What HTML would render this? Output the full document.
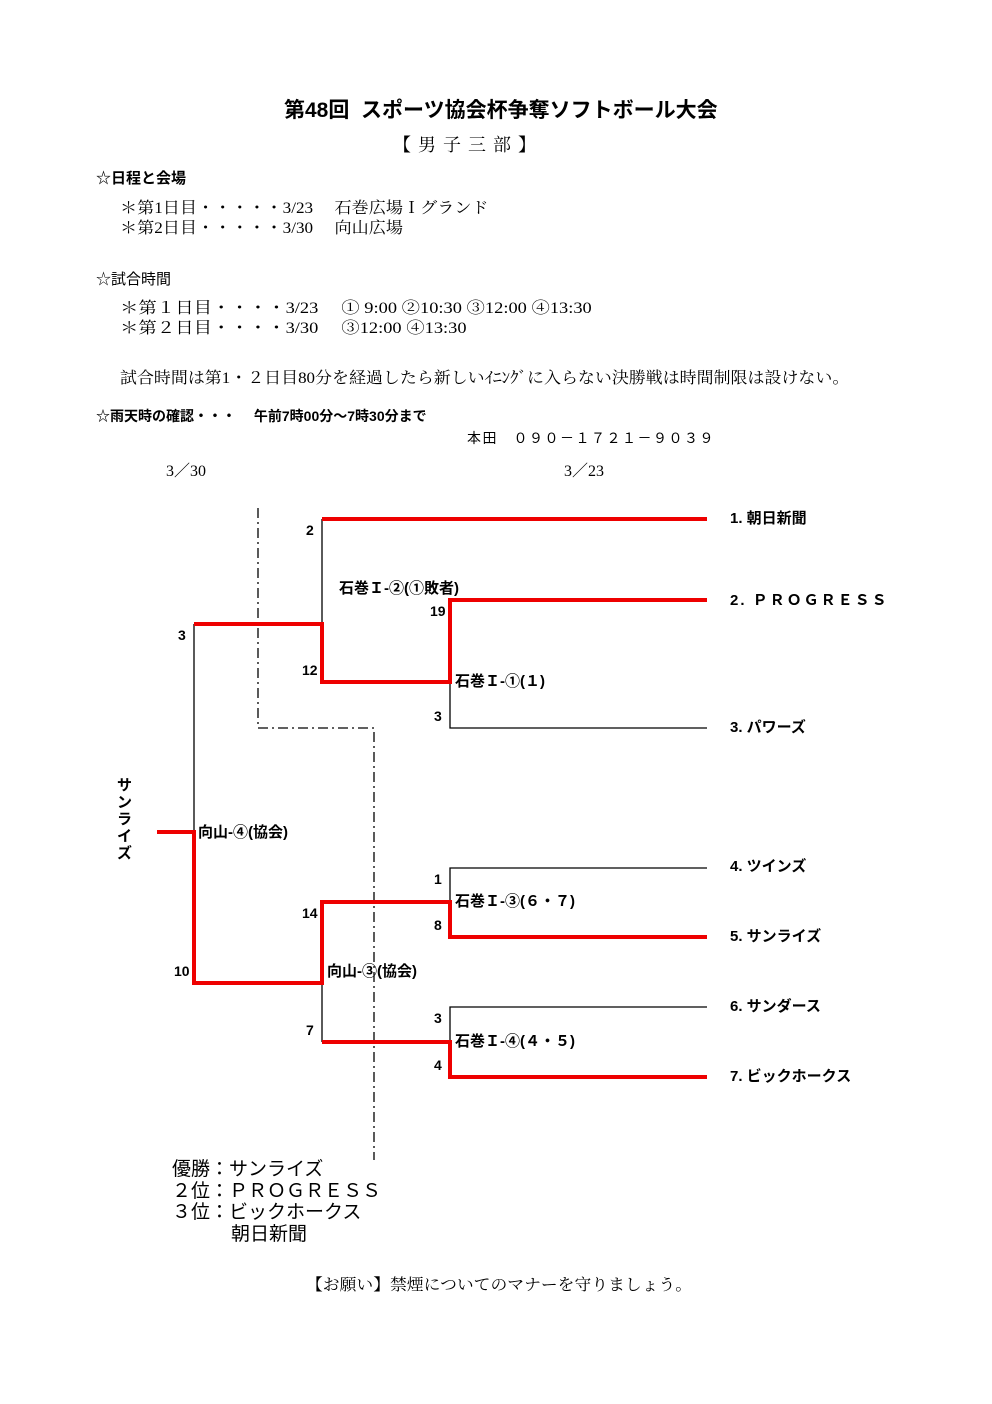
<!DOCTYPE html>
<html><head><meta charset="utf-8"><style>
html,body{margin:0;padding:0;background:#fff;}
body{width:992px;height:1404px;position:relative;overflow:hidden;font-family:"Liberation Sans","Noto Sans CJK JP",sans-serif;color:#000;}
.t{position:absolute;white-space:nowrap;line-height:1;transform-origin:0 0;}
.g{font-family:"Liberation Sans","Noto Sans CJK JP",sans-serif;font-weight:bold;}
.m{font-family:"Liberation Serif","Noto Serif CJK SC",serif;}
svg{position:absolute;left:0;top:0;}
</style></head><body>
<div class="t g" style="left:284px;top:100px;font-size:21px;">第48回&nbsp; スポーツ協会杯争奪ソフトボール大会</div>
<div class="t m" style="left:393px;top:136px;font-size:18px;letter-spacing:7px;">【男子三部】</div>
<div class="t g" style="left:96px;top:171px;font-size:15px;">☆日程と会場</div>
<div class="t m" style="left:120px;top:201px;font-size:16px;transform:scaleX(1.07);">＊第1日目・・・・・3/23　 石巻広場Ｉグランド</div>
<div class="t m" style="left:120px;top:221px;font-size:16px;transform:scaleX(1.07);">＊第2日目・・・・・3/30　 向山広場</div>
<div class="t" style="left:96px;top:272px;font-size:15px;">☆試合時間</div>
<div class="t m" style="left:120px;top:301px;font-size:16px;transform:scaleX(1.15);">＊第１日目・・・・3/23　 ① 9:00 ②10:30 ③12:00 ④13:30</div>
<div class="t m" style="left:120px;top:321px;font-size:16px;transform:scaleX(1.15);">＊第２日目・・・・3/30　 ③12:00 ④13:30</div>
<div class="t m" style="left:120px;top:371px;font-size:16px;transform:scaleX(1.06);">試合時間は第1・２日目80分を経過したら新しいｲﾆﾝｸﾞに入らない決勝戦は時間制限は設けない。</div>
<div class="t g" style="left:96px;top:409px;font-size:14px;">☆雨天時の確認・・・　 午前7時00分～7時30分まで</div>
<div class="t" style="left:467px;top:431px;font-size:14px;letter-spacing:1.5px;">本田　０９０－１７２１－９０３９</div>
<div class="t m" style="left:166px;top:464px;font-size:16px;">3／30</div>
<div class="t m" style="left:564px;top:464px;font-size:16px;">3／23</div>

<svg width="992" height="1404">
<g stroke="#000" stroke-width="1.3" fill="none">
<path d="M322 519V624"/>
<path d="M450 682V728H707"/>
<path d="M194 624V832"/>
<path d="M450 902V868H707"/>
<path d="M322 983V1042"/>
<path d="M450 1042V1007H707"/>
</g>
<g stroke="#000" stroke-width="1.3" fill="none" stroke-dasharray="10,4,2,4">
<path d="M258 508V728H374V1160"/>
</g>
<g stroke="#e00" stroke-width="4" fill="none" stroke-linejoin="miter">
<path d="M322 519H707"/>
<path d="M194 624H322V682H450V600H707"/>
<path d="M157 832H194V983H322V902H450V937H707"/>
<path d="M322 1042H450V1077H707"/>
</g>
</svg>

<div class="t g" style="left:306px;top:523px;font-size:14px;">2</div>
<div class="t g" style="left:339px;top:581px;font-size:15px;">石巻Ｉ-②(①敗者)</div>
<div class="t g" style="left:430px;top:604px;font-size:14px;">19</div>
<div class="t g" style="left:178px;top:628px;font-size:14px;">3</div>
<div class="t g" style="left:302px;top:663px;font-size:14px;">12</div>
<div class="t g" style="left:455px;top:674px;font-size:15px;">石巻Ｉ-①(１)</div>
<div class="t g" style="left:434px;top:709px;font-size:14px;">3</div>
<div class="t g" style="left:198px;top:825px;font-size:15px;">向山-④(協会)</div>
<div class="t g" style="left:434px;top:872px;font-size:14px;">1</div>
<div class="t g" style="left:455px;top:894px;font-size:15px;">石巻Ｉ-③(６・７)</div>
<div class="t g" style="left:302px;top:906px;font-size:14px;">14</div>
<div class="t g" style="left:434px;top:918px;font-size:14px;">8</div>
<div class="t g" style="left:174px;top:964px;font-size:14px;">10</div>
<div class="t g" style="left:327px;top:964px;font-size:15px;">向山-③(協会)</div>
<div class="t g" style="left:434px;top:1011px;font-size:14px;">3</div>
<div class="t g" style="left:306px;top:1023px;font-size:14px;">7</div>
<div class="t g" style="left:455px;top:1034px;font-size:15px;">石巻Ｉ-④(４・５)</div>
<div class="t g" style="left:434px;top:1058px;font-size:14px;">4</div>

<div class="t g" style="left:117px;top:777px;font-size:15px;width:16px;line-height:17px;white-space:normal;">サンライズ</div>

<div class="t g" style="left:730px;top:511px;font-size:15px;">1. 朝日新聞</div>
<div class="t g" style="left:730px;top:593px;font-size:15px;letter-spacing:2px;">2. ＰＲＯＧＲＥＳＳ</div>
<div class="t g" style="left:730px;top:720px;font-size:15px;">3. パワーズ</div>
<div class="t g" style="left:730px;top:859px;font-size:15px;">4. ツインズ</div>
<div class="t g" style="left:730px;top:929px;font-size:15px;">5. サンライズ</div>
<div class="t g" style="left:730px;top:999px;font-size:15px;">6. サンダース</div>
<div class="t g" style="left:730px;top:1069px;font-size:15px;">7. ビックホークス</div>

<div class="t" style="left:172px;top:1160px;font-size:19px;">優勝：サンライズ</div>
<div class="t" style="left:172px;top:1182px;font-size:19px;">２位：ＰＲＯＧＲＥＳＳ</div>
<div class="t" style="left:172px;top:1203px;font-size:19px;">３位：ビックホークス</div>
<div class="t" style="left:231px;top:1225px;font-size:19px;">朝日新聞</div>
<div class="t m" style="left:306px;top:1278px;font-size:16px;transform:scaleX(1.05);">【お願い】禁煙についてのマナーを守りましょう。</div>
</body></html>
